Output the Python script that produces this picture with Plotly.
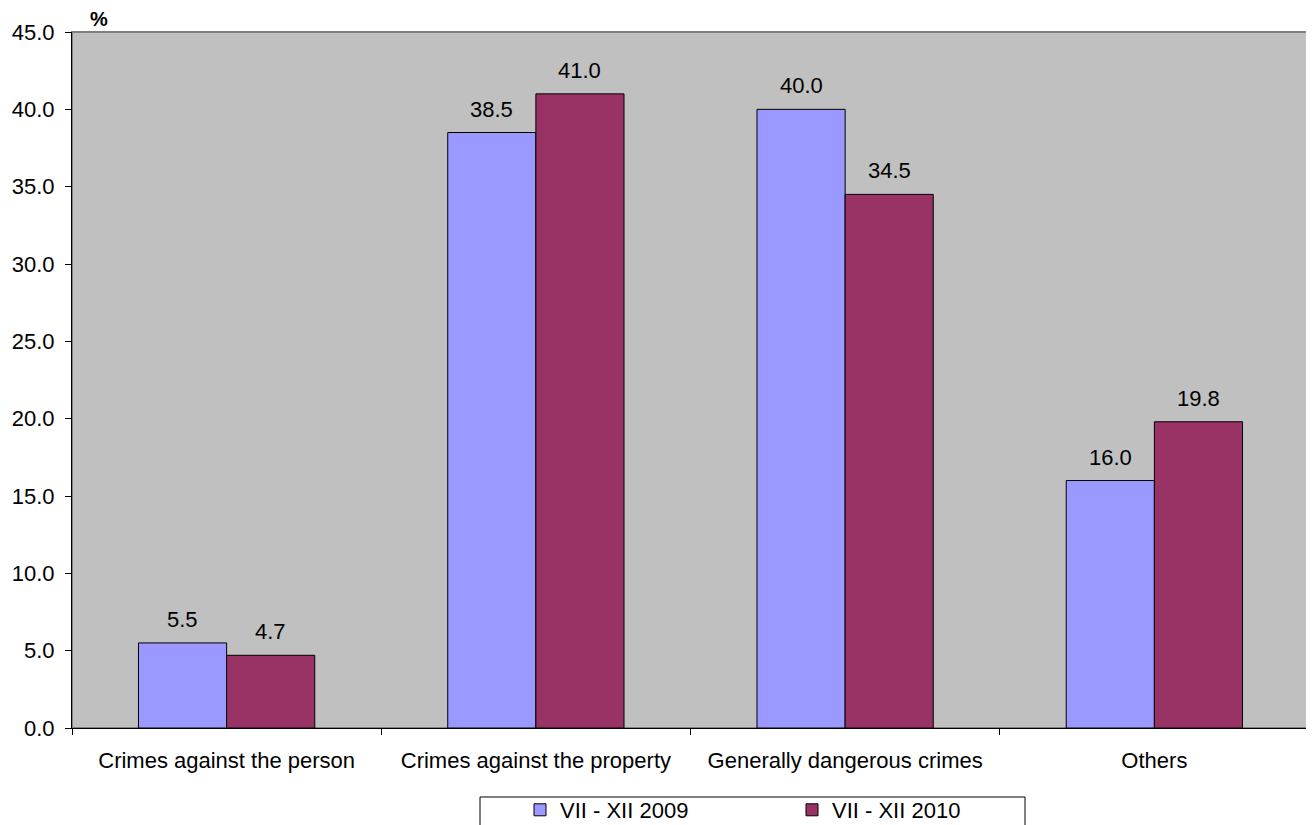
import plotly.graph_objects as go

categories = ["Crimes against the person", "Crimes against the property",
              "Generally dangerous crimes", "Others"]
series_2009 = [5.5, 38.5, 40.0, 16.0]
series_2010 = [4.7, 41.0, 34.5, 19.8]
series_names = ["VII - XII 2009", "VII - XII 2010"]
series_colors = ["#9999FF", "#993366"]
y_ticks = [0, 5, 10, 15, 20, 25, 30, 35, 40, 45]

FONT = "Liberation Sans, Arial, sans-serif"
FS = 22

OFF = 8  # page body margin
W, H = 1314 - OFF, 825 - OFF
L, R, T, B = 72 - OFF, 5, 32 - OFF, 97
PW, PH = W - L - R, H - T - B


def px_x(sx):
    return (sx - OFF - L) / PW


def px_y(sy):
    return (H - B - (sy - OFF)) / PH


fig = go.Figure()
series = [series_2009, series_2010]
for name, vals, col in zip(series_names, series, series_colors):
    fig.add_trace(go.Bar(
        x=categories, y=vals, name=name,
        marker=dict(color=col, line=dict(color="black", width=1)),
    ))

annotations = []
for k, vals in enumerate(series):
    for c, v in zip(categories, vals):
        annotations.append(dict(
            x=c, y=v, xref="x", yref="y", text=f"{v:.1f}", showarrow=False,
            xanchor="center", yanchor="bottom", xshift=(-44 if k == 0 else 44),
            yshift=9, font=dict(size=FS, family=FONT, color="black")))

annotations.append(dict(text="<b>%</b>", xref="paper", yref="paper", x=px_x(99),
                        y=px_y(31), xanchor="center", yanchor="bottom",
                        showarrow=False, borderpad=0,
                        font=dict(size=20, family=FONT)))

fig.update_layout(
    width=W, height=H,
    margin=dict(l=L, r=R, t=T, b=B, autoexpand=False),
    paper_bgcolor="white", plot_bgcolor="#C0C0C0",
    font=dict(family=FONT, size=FS, color="black"),
    barmode="group", bargap=0.43, bargroupgap=0,
    showlegend=True,
    legend=dict(orientation="h", x=px_x(520), xanchor="left", y=px_y(789),
                yanchor="top", borderwidth=0, bgcolor="rgba(0,0,0,0)",
                entrywidth=227, entrywidthmode="pixels",
                font=dict(size=FS, family=FONT)),
    xaxis=dict(showgrid=False, showline=True, linecolor="black", linewidth=1,
               ticks="outside", tickson="boundaries", ticklen=6, tickcolor="black",
               ticklabelstandoff=13),
    yaxis=dict(range=[0, 45], tickvals=y_ticks, tickformat=".1f", showgrid=False,
               showline=True, linecolor="black", linewidth=1, ticks="outside",
               ticklen=6, tickcolor="black", zeroline=False, ticklabelstandoff=6),
    shapes=[
        dict(type="rect", xref="paper", yref="paper", x0=0, x1=1, y0=0, y1=1,
             line=dict(color="#808080", width=2), layer="below"),
        dict(type="rect", xref="paper", yref="paper", x0=px_x(480), x1=px_x(1025),
             y0=px_y(797), y1=px_y(840), line=dict(color="black", width=1),
             fillcolor="white", layer="below"),
    ],
    annotations=annotations,
)
fig.write_html("out.html")
